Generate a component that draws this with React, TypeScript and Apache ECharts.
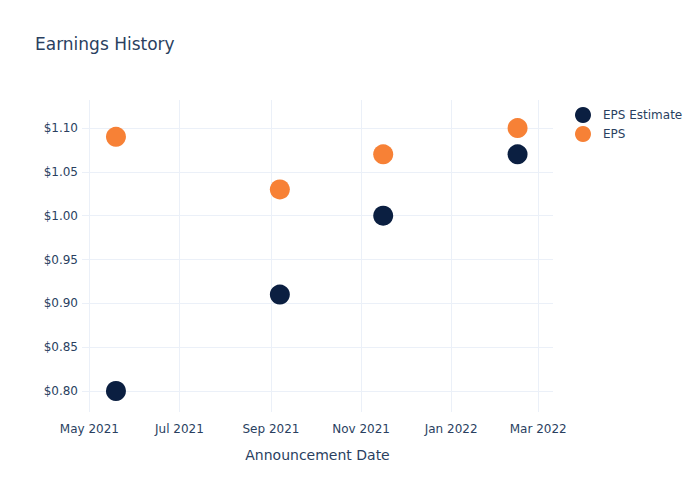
import React, { useEffect, useRef } from "react";
import * as echarts from "echarts";

const dates = ["2021-05-19", "2021-09-07", "2021-11-16", "2022-02-15"];
const epsEstimate = [0.8, 0.91, 1.0, 1.07];
const eps = [1.09, 1.03, 1.07, 1.1];
const xTickDates = ["2021-05-01", "2021-07-01", "2021-09-01", "2021-11-01", "2022-01-01", "2022-03-01"];
const yTicks = [0.8, 0.85, 0.9, 0.95, 1.0, 1.05, 1.1];
const monthNames = ["Jan", "Feb", "Mar", "Apr", "May", "Jun", "Jul", "Aug", "Sep", "Oct", "Nov", "Dec"];

const ts = (s: string) => Date.parse(s + "T00:00:00Z");
const FONT = "'DejaVu Sans', Verdana, sans-serif";
const TXT = "#2a3f5f";
const GRID = "#ebf0f8";

export default function App() {
  const ref = useRef<HTMLDivElement>(null);
  useEffect(() => {
    if (!ref.current) return;
    const chart = echarts.init(ref.current, undefined, { renderer: "svg" });
    const xTicks = xTickDates.map(ts);
    chart.setOption({
      animation: false,
      backgroundColor: "#ffffff",
      textStyle: { fontFamily: FONT },
      title: {
        text: "Earnings History",
        left: 35,
        top: 35,
        padding: 0,
        textStyle: { fontFamily: FONT, fontSize: 17, fontWeight: "normal", color: TXT },
      },
      legend: {
        orient: "vertical",
        left: 575,
        top: 107,
        icon: "circle",
        itemWidth: 16,
        itemHeight: 16,
        itemGap: 3,
        padding: 0,
        textStyle: { fontFamily: FONT, fontSize: 12, color: TXT, padding: [0, 0, 0, 7] },
        data: ["EPS Estimate", "EPS"],
      },
      grid: { left: 82, right: 147, top: 100, bottom: 88, containLabel: false },
      xAxis: {
        type: "value",
        min: ts("2021-04-26"),
        max: ts("2022-03-11"),
        name: "Announcement Date",
        nameLocation: "middle",
        nameGap: 36,
        nameTextStyle: { fontFamily: FONT, fontSize: 14, color: TXT },
        axisLine: { show: false },
        axisTick: { show: false, customValues: xTicks },
        splitLine: { show: true, lineStyle: { color: GRID, width: 1 } },
        axisLabel: {
          customValues: xTicks,
          margin: 11,
          fontFamily: FONT,
          fontSize: 12,
          color: TXT,
          formatter: (v: number) => {
            const d = new Date(v);
            return monthNames[d.getUTCMonth()] + " " + d.getUTCFullYear();
          },
        },
      },
      yAxis: {
        type: "value",
        min: 0.776,
        max: 1.132,
        axisLine: { show: false },
        axisTick: { show: false, customValues: yTicks },
        splitLine: { show: true, lineStyle: { color: GRID, width: 1 } },
        axisLabel: {
          customValues: yTicks,
          margin: 4,
          fontFamily: FONT,
          fontSize: 12,
          color: TXT,
          formatter: (v: number) => "$" + v.toFixed(2),
        },
      },
      series: [
        {
          name: "EPS Estimate",
          type: "scatter",
          symbolSize: 20,
          itemStyle: { color: "#0b1f41", opacity: 1 },
          data: dates.map((d, i) => [ts(d), epsEstimate[i]]),
        },
        {
          name: "EPS",
          type: "scatter",
          symbolSize: 20,
          itemStyle: { color: "#f78136", opacity: 1 },
          data: dates.map((d, i) => [ts(d), eps[i]]),
        },
      ],
    });
    return () => chart.dispose();
  }, []);
  return (
    <div
      ref={ref}
      style={{ position: "absolute", left: 0, top: 0, width: 700, height: 500 }}
    />
  );
}
